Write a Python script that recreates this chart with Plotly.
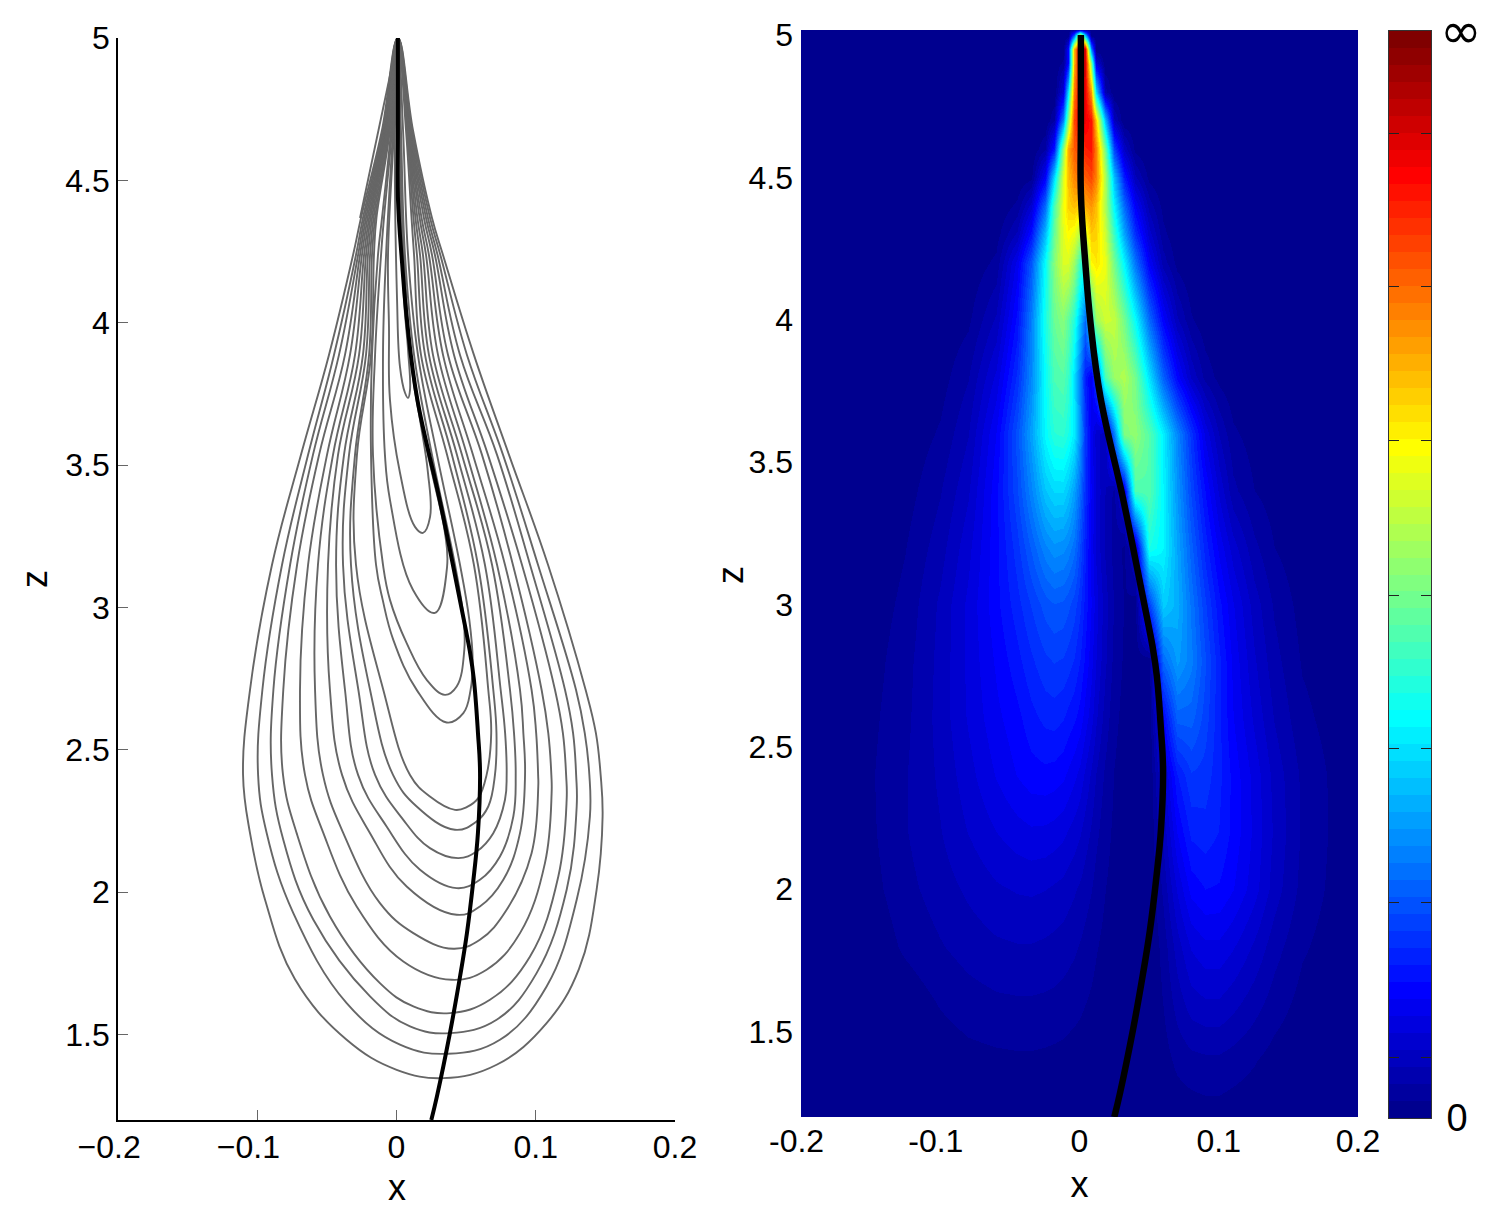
import plotly.graph_objects as go

# ---------- left panel: ridge line and closed level curves (x, z) ----------
RIDGE_X = [0.001, 0.001, 0.001, 0.004, 0.008, 0.015, 0.031, 0.0405, 0.0495, 0.0525, 0.0555, 0.0585, 0.060, 0.0585, 0.055, 0.0506, 0.0456, 0.0384, 0.029, 0.025]
RIDGE_Z = [5.0, 4.677, 4.442, 4.21, 3.985, 3.729, 3.378, 3.15, 2.928, 2.851, 2.75, 2.56, 2.419, 2.209, 2.033, 1.857, 1.703, 1.506, 1.282, 1.2]

APEX_X = 0.001
APEX_Z = 5.0

# Shared z levels crossed by the eleven outer curves, outermost curve first in each row
LEFT_Z = [4.677, 4.368, 4.238, 3.887, 3.536, 3.150, 2.711, 2.412]
LEFT_X = [
    [-.0104, -.0097, -.0090, -.0083, -.0079, -.0075, -.0072, -.0068, -.0061, -.0054, -.0047],
    [-.0255, -.0241, -.0230, -.0219, -.0208, -.0197, -.0187, -.0176, -.0165, -.0154, -.0144],
    [-.0312, -.0291, -.0276, -.0262, -.0248, -.0233, -.0219, -.0205, -.0190, -.0176, -.0162],
    [-.0485, -.0449, -.0413, -.0370, -.0334, -.0298, -.0269, -.0241, -.0219, -.0197, -.0183],
    [-.0686, -.0635, -.0600, -.0556, -.0499, -.0456, -.0420, -.0377, -.0341, -.0298, -.0284],
    [-.0894, -.0822, -.0764, -.0714, -.0635, -.0564, -.0492, -.0434, -.0384, -.0327, -.0291],
    [-.1052, -.0963, -.0884, -.0813, -.0693, -.0585, -.0478, -.0370, -.0274, -.0190, -.0095],
    [-.1102, -.0994, -.0894, -.0815, -.0657, -.0528, -.0391, -.0276, -.0154, -.0025, .0097],
]
RIGHT_Z = [2.412, 2.5585, 2.711, 3.150, 3.536, 3.887, 4.238, 4.368, 4.677]
RIGHT_X = [
    [.1466, .1385, .1290, .1218, .1112, .1017, .0923, .0856, .0791, .0707, .0647],
    [.1432, .1352, .1268, .1195, .1090, .1003, .0911, .0844, .0780, .0718, .0680],
    [.1358, .1289, .1210, .1138, .1042, .0970, .0887, .0815, .0748, .0695, .0659],
    [.1088, .1016, .0959, .0901, .0836, .0779, .0722, .0686, .0635, .0585, .0556],
    [.0808, .0765, .0722, .0657, .0614, .0549, .0506, .0470, .0434, .0398, .0363],
    [.0556, .0506, .0456, .0413, .0370, .0334, .0298, .0262, .0233, .0205, .0176],
    [.0334, .0315, .0295, .0276, .0255, .0233, .0212, .0190, .0169, .0147, .0126],
    [.0255, .0241, .0226, .0212, .0197, .0180, .0166, .0150, .0136, .0122, .0108],
    [.0118, .0111, .0104, .0097, .0093, .0090, .0086, .0083, .0079, .0075, .0068],
]

# Lower arcs of the eleven outer curves (left side, through the bottom, up the right side)
ARC_X = [
    [-.1052, -.0944, -.0730, -.0358, .0001, .0336, .0719, .1078, .1310, .1437, .1480],
    [-.0932, -.0741, -.0358, .0025, .0372, .0743, .1078, .1294, .1389],
    [-.0813, -.0597, -.0190, .0097, .0384, .0719, .1006, .1222, .1294],
    [-.0717, -.0478, -.0119, .0121, .0384, .0671, .0959, .1162, .1222],
    [-.0525, -.0286, .0049, .0396, .0647, .0887, .1066, .1114],
    [-.0382, -.0119, .0121, .0408, .0599, .0791, .0970, .1018],
    [-.0190, .0073, .0432, .0599, .0767, .0887],
    [-.0071, .0169, .0432, .0599, .0743, .0839],
    [.0049, .0240, .0444, .0575, .0695, .0779],
    [.0145, .0420, .0575, .0659],
    [.0240, .0420, .0504, .0587],
]
ARC_Z = [
    [2.2074, 1.9733, 1.6950, 1.4818, 1.3764, 1.3472, 1.3940, 1.5403, 1.7300, 2.0085, 2.2659],
    [2.2074, 1.9265, 1.6105, 1.4643, 1.4326, 1.4818, 1.6690, 1.9733, 2.2659],
    [2.1840, 1.9031, 1.6339, 1.5286, 1.5052, 1.5520, 1.7158, 2.0085, 2.3010],
    [2.2074, 1.9148, 1.6807, 1.5988, 1.5754, 1.6222, 1.7744, 2.0553, 2.3245],
    [2.2074, 1.9499, 1.7568, 1.6924, 1.7276, 1.8563, 2.1021, 2.3479],
    [2.2074, 1.9616, 1.8563, 1.8013, 1.8329, 1.9382, 2.1372, 2.3713],
    [2.2074, 2.0202, 1.9207, 1.9499, 2.0436, 2.2074],
    [2.2308, 2.0787, 2.0143, 2.0436, 2.1255, 2.2659],
    [2.2542, 2.1547, 2.1196, 2.1430, 2.2074, 2.3245],
    [2.3010, 2.2191, 2.2484, 2.3010],
    [2.3362, 2.2893, 2.2987, 2.3303],
]

# Five small inner curves, complete outlines
INNER_X = [
    [-.0039, -.0104, -.0133, -.0176, -.0183, -.0147, -.0099, -.0023, .0145, .0360, .0480, .0532, .0547, .0523, .0456, .0291, .0154, .0083, .0047],
    [-.0032, -.0090, -.0111, -.0154, -.0169, -.0097, -.0047, .0073, .0217, .0348, .0432, .0487, .0480, .0420, .0255, .0126, .0061, .0032],
    [-.0025, -.0075, -.0097, -.0083, -.0047, .0118, .0276, .0363, .0348, .0262, .0219, .0104, .0054, .0025],
    [-.0018, -.0061, -.0054, -.0047, .0025, .0133, .0190, .0241, .0226, .0169, .0118, .0047, .0018],
    [-.0011, .0004, .0025, .0061, .0083, .0097, .0083, .0054, .0011],
]
INNER_Z = [
    [4.677, 4.368, 4.238, 3.887, 3.536, 3.150, 3.0267, 2.8863, 2.7107, 2.5960, 2.6288, 2.7107, 2.8160, 2.9565, 3.150, 3.536, 3.887, 4.238, 4.677],
    [4.677, 4.368, 4.238, 3.887, 3.536, 3.150, 3.0267, 2.8746, 2.7458, 2.6931, 2.7224, 2.8511, 2.9682, 3.150, 3.536, 3.887, 4.238, 4.677],
    [4.677, 4.238, 3.887, 3.536, 3.378, 3.062, 2.981, 3.142, 3.262, 3.457, 3.553, 3.887, 4.238, 4.677],
    [4.677, 4.238, 3.985, 3.729, 3.473, 3.283, 3.262, 3.318, 3.473, 3.659, 3.810, 4.238, 4.677],
    [4.677, 4.080, 3.845, 3.754, 3.736, 3.764, 3.904, 4.080, 4.677],
]
STUB_X = [0.001, -.0262]
STUB_Z = [5.0, 4.368]

# ---------- right panel: field strength in percent of the colour range ----------
FIELD_X = [-.2, -.15, -.125, -.10, -.08, -.06, -.045, -.035, -.025, -.018, -.012, -.008, -.004, 0, .004, .008,
           .012, .018, .025, .032, .04, .05, .06, .07, .08, .09, .10, .11, .125, .14, .16, .2]
FIELD_Z = [1.2, 1.4, 1.6, 1.8, 2.0, 2.2, 2.4, 2.6, 2.8, 3.0, 3.2, 3.4, 3.6, 3.8, 4.0, 4.2, 4.3, 4.4, 4.5, 4.6, 4.7, 4.8, 4.9, 4.95, 5.0, 5.02]
FIELD = [
    [0,0,0,0,0,0,0,0,0,0,0,0,0,0,0,0,0,0,0,0,0,0,0,.4,.6,.8,.8,.6,.4,0,0,0],
    [0,0,0,.5,1,1.2,1.3,1.3,1.2,1.1,1,.9,.8,.6,.4,.3,.2,0,0,0,0,0,.8,2,2.6,2.8,2.8,2.4,1.7,.9,.2,0],
    [0,0,.4,1.7,2.4,2.8,2.9,2.9,2.8,2.7,2.5,2.3,2.1,1.9,1.6,1.3,1,.6,.3,.1,0,0,1.6,3.8,5.5,6,6,5.2,3.8,2.4,1,0],
    [0,.3,1.9,3,3.8,4.4,4.6,4.6,4.4,4.2,3.9,3.7,3.4,3,2.6,2.2,1.7,1.1,.6,.3,.1,0,2.2,5.5,8,9,9,8,6,3.8,1.8,0],
    [0,1,2.6,3.9,5,6,6.4,6.5,6.3,6,5.7,5.3,4.9,4.4,3.8,3.2,2.5,1.6,.9,.4,.1,0,3.5,8,11.5,12.5,12.3,11,8.5,5.5,2.6,0],
    [0,1.3,3,4.6,6.3,7.8,8.7,9.1,9,8.7,8.2,7.7,7.1,6.4,5.5,4.5,3.5,2.2,1.2,.6,.2,0,5,11,14.5,15,14,12,9,6,2.9,0],
    [0,1.4,3,5,7.2,9.5,11,11.8,12,11.8,11.3,10.6,9.8,8.8,7.5,6,4.6,2.8,1.5,.7,.3,0,7,14,17,16.5,14.5,12,8.8,5.7,2.8,0],
    [0,1.2,2.7,5.3,8,10.5,12,13.5,14.5,14.7,14.2,13.5,12.8,11.8,10.2,8.5,6.5,4,2,1,.5,.2,12,21,21,18,14.5,11,7.5,4.6,2,0],
    [0,.9,2.5,5.2,8.2,11.2,13.5,15.3,16.8,17.3,17,16.4,15.5,14,12.2,10,7.8,5,2.6,1.3,.7,.4,22,27,24,19,14.5,10.5,6.5,3.7,1.4,0],
    [0,.6,2,5,8.2,12,15,17.3,19.5,20.3,20,19.2,18,16,13.5,11,8.5,5.4,3,1.5,.8,18,32,29,23,17.5,13,9.5,5.5,2.9,.9,0],
    [0,.2,1.5,4,7.3,12,16.5,20.5,24.5,26,25.5,24.5,22.5,18.5,14.5,10.5,7.5,4.5,2.5,1.2,6,39,36,28,21,15,10.5,7,3.6,1.6,.4,0],
    [0,0,.8,3,6,12,18.5,24.5,31,33,33,31,27.5,22,16,11,7.5,4.7,2.7,9,44,45,36,26.5,18.5,12.5,7.5,3.6,1.6,.7,.1,0],
    [0,0,.3,1.8,4.6,11,19.5,27.5,36.5,40.5,41,39,35,26,17,10.5,7,5,24,49,51,45,35.5,25,16.5,9,4.6,1.9,.8,.2,0,0],
    [0,0,0,.8,3,8.2,16,25,37,44,45,42,34,24,14.5,10,18,44,52,54,48,34,21,12,6,2.6,1,.2,0,0,0,0],
    [0,0,0,.2,1.2,5,13,24,39,47,50,46,40,30,22,38,52,57,56,48,37,22,11.5,5,1.8,.4,0,0,0,0,0,0],
    [0,0,0,0,.2,2,10,20,37,50,58,58,52,42,40,62,64,60,48,36,23,11,4,1,0,0,0,0,0,0,0,0],
    [0,0,0,0,0,.8,5,13,30,47,59,62,60,54,58,67,66,57,42,28,16,7,2,.3,0,0,0,0,0,0,0,0],
    [0,0,0,0,0,0,2,7,22,44,60,66,68,66,70,72,68,54,36,22,11,4,1,0,0,0,0,0,0,0,0,0],
    [0,0,0,0,0,0,0,1,11,33,58,68,74,76,78,80,74,54,30,14,5,1,0,0,0,0,0,0,0,0,0,0],
    [0,0,0,0,0,0,0,0,3,14,50,70,78,80,84,85,74,48,18,6,1,0,0,0,0,0,0,0,0,0,0,0],
    [0,0,0,0,0,0,0,0,0,3,24,50,80,88,88,85,66,30,5,0,0,0,0,0,0,0,0,0,0,0,0,0],
    [0,0,0,0,0,0,0,0,0,0,8,34,75,88,88,72,33,4,0,0,0,0,0,0,0,0,0,0,0,0,0,0],
    [0,0,0,0,0,0,0,0,0,0,2,12,70,90,90,50,8,0,0,0,0,0,0,0,0,0,0,0,0,0,0,0],
    [0,0,0,0,0,0,0,0,0,0,0,12,70,90,90,25,0,0,0,0,0,0,0,0,0,0,0,0,0,0,0,0],
    [0,0,0,0,0,0,0,0,0,0,0,0,20,60,30,0,0,0,0,0,0,0,0,0,0,0,0,0,0,0,0,0],
    [0,0,0,0,0,0,0,0,0,0,0,0,0,0,0,0,0,0,0,0,0,0,0,0,0,0,0,0,0,0,0,0],
]

# ---------- tick labels ----------
X_TICKS = [-0.2, -0.1, 0, 0.1, 0.2]
X_LABELS_LEFT = ["\u22120.2\u00a0\u00a0", "\u22120.1\u00a0\u00a0", "0", "0.1", "0.2"]
X_LABELS_RIGHT = ["-0.2\u00a0", "-0.1\u00a0", "0", "0.1", "0.2"]
Z_TICKS = [1.5, 2, 2.5, 3, 3.5, 4, 4.5, 5]
Z_LABELS = ["1.5", "2", "2.5", "3", "3.5", "4", "4.5", "5"]
BAR_TICKS = [0, 5.6, 19.8, 34.0, 48.1, 62.3, 76.5, 90.6, 100]
BAR_LABELS = ["0", "", "", "", "", "", "", "", ""]
BAR_TOP_LABEL = "\u221e"
N_COLOURS = 64
GREY = "#666666"
FONT = "Liberation Sans"
W, H = 1501, 1215


def clip(v):
    return max(0.0, min(1.0, v))


def jet_colour(i):
    t = (i + 1) / N_COLOURS
    r = clip(min(4 * t - 1.5, -4 * t + 4.5))
    g = clip(min(4 * t - 0.5, -4 * t + 3.5))
    b = clip(min(4 * t + 0.5, -4 * t + 2.5))
    return f"rgb({round(r * 255)},{round(g * 255)},{round(b * 255)})"


JET = []
for i in range(N_COLOURS):
    JET.append([i / N_COLOURS, jet_colour(i)])
    JET.append([(i + 1) / N_COLOURS, jet_colour(i)])

fig = go.Figure()
spline = dict(shape="spline", smoothing=1.15)

for k in range(11):
    xs = [APEX_X] + [row[k] for row in LEFT_X] + ARC_X[k] + [row[k] for row in RIGHT_X] + [APEX_X]
    zs = [APEX_Z] + LEFT_Z + ARC_Z[k] + RIGHT_Z + [APEX_Z]
    fig.add_trace(go.Scatter(x=xs, y=zs, mode="lines", line=dict(color=GREY, width=1.9, **spline),
                             xaxis="x", yaxis="y", showlegend=False, hoverinfo="skip"))
for xs, zs in zip(INNER_X, INNER_Z):
    fig.add_trace(go.Scatter(x=[APEX_X] + xs + [APEX_X], y=[APEX_Z] + zs + [APEX_Z], mode="lines",
                             line=dict(color=GREY, width=1.9, **spline),
                             xaxis="x", yaxis="y", showlegend=False, hoverinfo="skip"))
fig.add_trace(go.Scatter(x=STUB_X, y=STUB_Z, mode="lines", line=dict(color=GREY, width=1.9),
                         xaxis="x", yaxis="y", showlegend=False, hoverinfo="skip"))
fig.add_trace(go.Scatter(x=RIDGE_X, y=RIDGE_Z, mode="lines", line=dict(color="black", width=4, **spline),
                         xaxis="x", yaxis="y", showlegend=False))

fig.add_trace(go.Heatmap(x=FIELD_X, y=FIELD_Z, z=FIELD, zmin=0, zmax=100, colorscale=JET, zsmooth="best",
                         showscale=False, xaxis="x2", yaxis="y2"))
fig.add_trace(go.Scatter(x=RIDGE_X, y=RIDGE_Z, mode="lines", line=dict(color="black", width=6.5, **spline),
                         xaxis="x2", yaxis="y2", showlegend=False))

bar_y = [(i + 0.5) * 100 / N_COLOURS for i in range(N_COLOURS)]
fig.add_trace(go.Heatmap(x=[0], y=bar_y, z=[[v] for v in bar_y], zmin=0, zmax=100, colorscale=JET,
                         showscale=False, xaxis="x3", yaxis="y3", hoverinfo="skip"))


def dom_x(a, b):
    return [a / W, b / W]


def dom_y(top, bottom):
    return [(H - bottom) / H, (H - top) / H]


tickfont = dict(family=FONT, size=32, color="black")
titlefont = dict(family=FONT, size=36, color="black")

fig.update_layout(
    template="none",
    width=W, height=H, margin=dict(l=0, r=0, t=0, b=0, autoexpand=False), paper_bgcolor="white", plot_bgcolor="white",
    showlegend=False, font=dict(family=FONT, color="black"),
    xaxis=dict(domain=dom_x(118, 675), range=[-0.2, 0.2], anchor="y", tickvals=X_TICKS, ticktext=X_LABELS_LEFT, automargin=False,
               tickfont=tickfont, ticks="inside", ticklen=10, tickcolor=GREY, tickwidth=1.2, showgrid=False, zeroline=False, ticklabelstandoff=-2,
               showline=True, linecolor="black", linewidth=1.6),
    yaxis=dict(domain=dom_y(38, 1120), range=[1.2, 5], anchor="x", tickvals=Z_TICKS, ticktext=Z_LABELS, automargin=False,
               tickfont=tickfont, ticks="inside", ticklen=10, tickcolor=GREY, tickwidth=1.2, showgrid=False, zeroline=False,
               showline=True, linecolor="black", linewidth=1.6, title=dict(text="z", font=titlefont, standoff=7)),
    xaxis2=dict(domain=dom_x(801, 1358), range=[-0.2, 0.2], anchor="y2", tickvals=X_TICKS, ticktext=X_LABELS_RIGHT, automargin=False,
                tickfont=tickfont, ticks="", showgrid=False, zeroline=False, showline=False, ticklabelstandoff=2,
                title=dict(text="x", font=titlefont, standoff=13)),
    yaxis2=dict(domain=dom_y(30, 1117), range=[1.2, 5.0176], anchor="x2", tickvals=Z_TICKS, ticktext=Z_LABELS, automargin=False,
                tickfont=tickfont, ticks="", showgrid=False, zeroline=False, showline=False, ticklabelstandoff=7),
    xaxis3=dict(domain=dom_x(1389, 1431), anchor="y3", showticklabels=False, ticks="", showgrid=False, zeroline=False, automargin=False,
                showline=True, linecolor="#333333", linewidth=1, mirror=True, range=[-0.5, 0.5]),
    yaxis3=dict(domain=dom_y(31, 1118), range=[0, 100], anchor="x3", side="right", tickvals=BAR_TICKS, ticktext=BAR_LABELS, automargin=False,
                tickfont=dict(family=FONT, size=38, color="black"), ticks="inside", ticklen=10, tickcolor="#222222", ticklabelstandoff=7,
                tickwidth=1, mirror="ticks", showgrid=False, zeroline=False, showline=True, linecolor="#333333", linewidth=1),
    annotations=[
        dict(text="x", xref="paper", yref="paper", x=397 / W, y=1 - 1187 / H, xanchor="center", yanchor="middle", showarrow=False, font=titlefont),
        dict(text="z", xref="paper", yref="paper", x=730 / W, y=1 - 575 / H, xanchor="center", yanchor="middle", textangle=-90, showarrow=False, font=titlefont),
        dict(text=BAR_TOP_LABEL, xref="paper", yref="paper", x=1461 / W, y=1 - 31 / H, xanchor="center", yanchor="middle", showarrow=False,
             font=dict(family="DejaVu Sans", size=50, color="black")),
    ],
)

fig.write_html("out.html", config=dict(displayModeBar=False),
               post_script="document.body.style.margin='0';document.documentElement.style.overflow='hidden';")
